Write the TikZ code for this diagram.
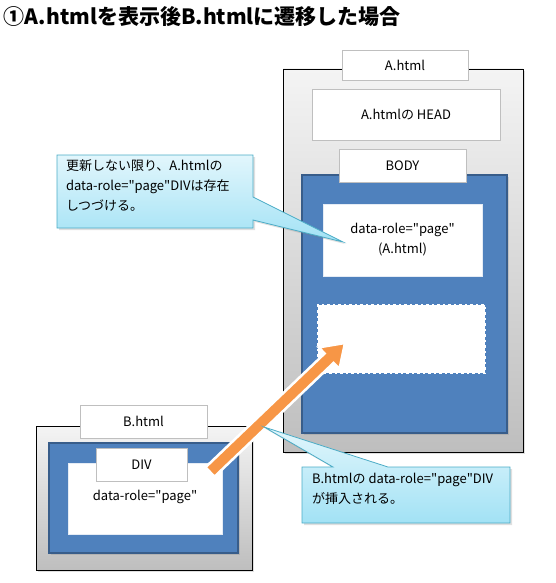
\documentclass[tikz,border=0pt]{standalone}
\usepackage{fontspec}
\newfontfamily\jp{Noto Sans CJK JP}
\usetikzlibrary{calc,shadows}
\definecolor{bluefill}{HTML}{4F81BD}
\definecolor{blueline}{HTML}{385D8A}
\definecolor{grayTop}{HTML}{F4F4F4}
\definecolor{grayBot}{HTML}{BEBEBE}
\definecolor{lblline}{HTML}{BFBFBF}
\definecolor{calTop}{HTML}{E2F6FC}
\definecolor{calBot}{HTML}{A2E2F5}
\definecolor{calLine}{HTML}{4BACC6}
\definecolor{arrOrange}{HTML}{F79646}
\begin{document}
\begin{tikzpicture}[x=1pt,y=-1pt,
  font=\jp\fontsize{13}{20}\selectfont,
  every node/.style={inner sep=0pt, outer sep=0pt, anchor=north west, align=center},
  shadowed/.style={drop shadow={opacity=0.25, shadow xshift=2pt, shadow yshift=-2pt}},
  outerbox/.style={draw=black, line width=0.6pt, top color=grayTop, bottom color=grayBot, shadowed},
  lblbox/.style={draw=lblline, line width=0.6pt, fill=white},
  bluebox/.style={draw=blueline, line width=1.5pt, fill=bluefill, shadowed},
  pagebox/.style={draw=white!85!bluefill, line width=0.8pt, fill=white},
  slotbox/.style={draw=white, line width=1.8pt, dash pattern=on 2.5pt off 3pt, fill=white},
  callout/.style={draw=calLine, line width=0.8pt, top color=calTop, bottom color=calBot, shadowed},
  calltext/.style={align=left, anchor=north west},
  bigarrow/.style={fill=arrOrange, draw=white, line width=2.5pt, line join=miter}
]
\useasboundingbox (0,0) rectangle (555,583);

% title
\node[anchor=west, font=\jp\fontsize{21}{24}\selectfont\bfseries] (title) at (4,17) {①A.htmlを表示後B.htmlに遷移した場合};

% ---- A.html ----
\node[outerbox, minimum width=240pt, minimum height=383pt] (Aout) at (283,69) {};
\node[lblbox, minimum width=126pt, minimum height=30pt] (Alabel) at (342,50) {};
\node[anchor=center] (AlabelT) at (Alabel.center) {A.html};
\node[lblbox, minimum width=188pt, minimum height=51pt] (Ahead) at (312,89) {};
\node[anchor=center] (AheadT) at (Ahead.center) {A.htmlの HEAD};
\node[bluebox, minimum width=205pt, minimum height=258pt] (Abody) at (302,175) {};
\node[lblbox, minimum width=127pt, minimum height=33pt] (Abodylbl) at (339,149) {};
\node[anchor=center] (AbodyT) at (Abodylbl.center) {BODY};
\node[pagebox, minimum width=159pt, minimum height=72pt] (Apage) at (323,204) {};
\node[anchor=center] (ApageT) at (Apage.center) {data-role="page"\\(A.html)};
\node[slotbox, minimum width=167pt, minimum height=68pt] (slot) at (318,305) {};

% ---- B.html ----
\node[outerbox, minimum width=216pt, minimum height=144pt] (Bout) at (36,426) {};
\node[lblbox, minimum width=127pt, minimum height=33pt] (Blabel) at (80,405) {};
\node[anchor=center] (BlabelT) at (Blabel.center) {B.html};
\node[bluebox, minimum width=189pt, minimum height=110pt] (Bblue) at (49,443) {};
\node[pagebox, minimum width=154pt, minimum height=71pt] (Bpage) at (68,463) {};
\node[anchor=center] (BpageT) at ([yshift=2pt]Bpage.center) {data-role="page"};
\node[lblbox, minimum width=91pt, minimum height=33pt] (Bdiv) at (96,448) {};
\node[anchor=center] (BdivT) at (Bdiv.center) {DIV};

% ---- big arrow from B's DIV to the slot ----
\coordinate (arrTail) at (210,472);
\coordinate (arrTip) at (345,343);
\coordinate (arrBase) at ($(arrTip)!22pt!(arrTail)$);
\draw[bigarrow]
  ($(arrTail)!6.5pt!90:(arrTip)$) --
  ($(arrBase)!6.5pt!-90:(arrTail)$) --
  ($(arrBase)!15pt!-90:(arrTail)$) --
  (arrTip) --
  ($(arrBase)!15pt!90:(arrTail)$) --
  ($(arrBase)!6.5pt!90:(arrTail)$) --
  ($(arrTail)!6.5pt!-90:(arrTip)$) -- cycle;

% ---- callout 1 ----
\node[minimum width=196pt, minimum height=73pt] (c1) at (57,155) {};
\coordinate (c1tip) at (343,242);
\draw[callout] (c1.north west) -- (c1.north east) -- ([yshift=-42pt]c1.north east) -- (c1tip)
  -- ([yshift=8pt]c1.south east) -- (c1.south east) -- (c1.south west) -- cycle;
\node[calltext] (c1T) at (66,160) {更新しない限り、A.htmlの\\data-role="page"DIVは存在\\しつづける。};

% ---- callout 2 ----
\node[minimum width=208pt, minimum height=56pt] (c2) at (302,467) {};
\coordinate (c2tip) at (264,427);
\draw[callout] (c2.north west) -- ([xshift=31pt]c2.north west) -- (c2tip)
  -- ([xshift=86pt]c2.north west) -- (c2.north east) -- (c2.south east) -- (c2.south west) -- cycle;
\node[calltext] (c2T) at (312,473) {B.htmlの data-role="page"DIV\\が挿入される。};
\end{tikzpicture}
\end{document}
